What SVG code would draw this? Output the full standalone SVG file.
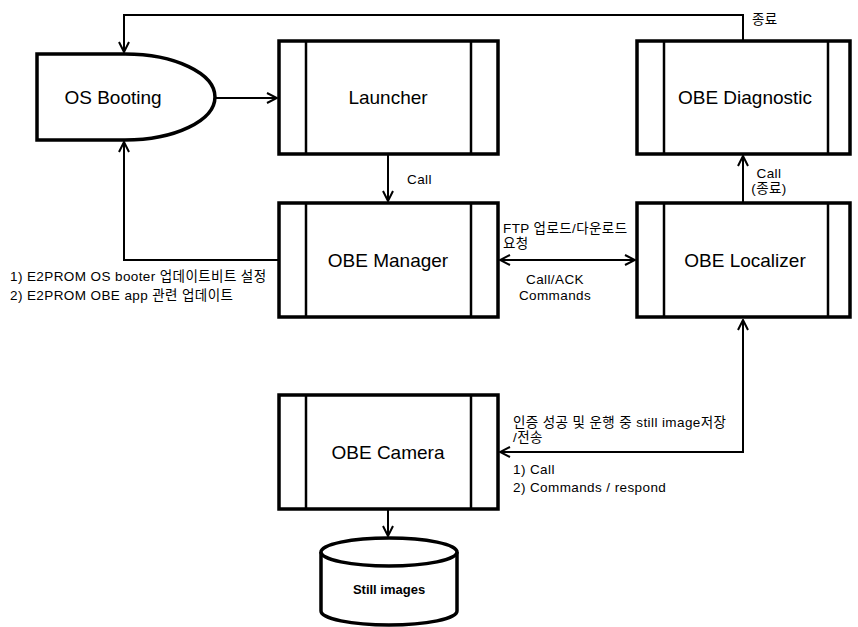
<svg xmlns="http://www.w3.org/2000/svg" width="858" height="627" viewBox="0 0 858 627">
<defs>
<marker id="ah" viewBox="0 0 12 12" refX="11" refY="6" markerWidth="12" markerHeight="12" markerUnits="userSpaceOnUse" orient="auto-start-reverse">
<path d="M1,1 L11,6 L1,11" fill="none" stroke="#000" stroke-width="2"/>
</marker>
<style>
.box{fill:#fff;stroke:#000;stroke-width:3.5}
.in{stroke:#000;stroke-width:2.5}
.lbl{font-family:"Liberation Sans","Noto Sans CJK KR",sans-serif;font-size:19px;fill:#000;text-anchor:middle}
.sm{font-family:"Liberation Sans","Noto Sans CJK KR",sans-serif;font-size:13.5px;letter-spacing:0.4px;fill:#000}
.cn{fill:none;stroke:#000;stroke-width:2}
</style>
</defs>
<rect width="858" height="627" fill="#fff"/>
<g id="connectors">
<path class="cn" d="M743,40 V15 H124 V52" marker-end="url(#ah)"/>
<path class="cn" d="M215,98 H277" marker-end="url(#ah)"/>
<path class="cn" d="M388,154 V201" marker-end="url(#ah)"/>
<path class="cn" d="M279,260 H124 V142" marker-end="url(#ah)"/>
<path class="cn" d="M500,260 H635" marker-start="url(#ah)" marker-end="url(#ah)"/>
<path class="cn" d="M743,203 V156" marker-end="url(#ah)"/>
<path class="cn" d="M500,452 H743 V320" marker-start="url(#ah)" marker-end="url(#ah)"/>
<path class="cn" d="M388,509 V536" marker-end="url(#ah)"/>
<text class="sm" x="752" y="24">종료</text>
<text class="sm" x="407" y="184">Call</text>
<text class="sm" x="10" y="281">1) E2PROM OS booter 업데이트비트  설정</text>
<text class="sm" x="10" y="300">2) E2PROM OBE app 관련 업데이트</text>
<text class="sm" x="503" y="233">FTP 업로드/다운로드</text>
<text class="sm" x="503" y="248">요청</text>
<text class="sm" x="555" y="284" text-anchor="middle">Call/ACK</text>
<text class="sm" x="555" y="300" text-anchor="middle">Commands</text>
<text class="sm" x="769" y="178" text-anchor="middle">Call</text>
<text class="sm" x="769" y="193" text-anchor="middle">(종료)</text>
<text class="sm" x="513" y="427">인증 성공 및 운행 중 still image저장</text>
<text class="sm" x="513" y="442">/전송</text>
<text class="sm" x="513" y="474">1) Call</text>
<text class="sm" x="513" y="492">2) Commands / respond</text>
</g>
<g id="os-booting">
<path class="box" d="M37,54 H125 A90,43 0 0 1 125,140 H37 Z"/>
<text class="lbl" x="113" y="104">OS Booting</text>
</g>
<g id="launcher">
<rect class="box" x="279" y="41" width="219" height="113"/>
<line class="in" x1="306" y1="41" x2="306" y2="154"/>
<line class="in" x1="471" y1="41" x2="471" y2="154"/>
<text class="lbl" x="388" y="104">Launcher</text>
</g>
<g id="obe-diagnostic">
<rect class="box" x="637" y="41" width="213" height="113"/>
<line class="in" x1="664" y1="41" x2="664" y2="154"/>
<line class="in" x1="828" y1="41" x2="828" y2="154"/>
<text class="lbl" x="745" y="104">OBE Diagnostic</text>
</g>
<g id="obe-manager">
<rect class="box" x="279" y="203" width="219" height="114"/>
<line class="in" x1="306" y1="203" x2="306" y2="317"/>
<line class="in" x1="471" y1="203" x2="471" y2="317"/>
<text class="lbl" x="388" y="267">OBE Manager</text>
</g>
<g id="obe-localizer">
<rect class="box" x="637" y="203" width="213" height="114"/>
<line class="in" x1="664" y1="203" x2="664" y2="317"/>
<line class="in" x1="828" y1="203" x2="828" y2="317"/>
<text class="lbl" x="745" y="267">OBE Localizer</text>
</g>
<g id="obe-camera">
<rect class="box" x="279" y="395" width="219" height="114"/>
<line class="in" x1="306" y1="395" x2="306" y2="509"/>
<line class="in" x1="471" y1="395" x2="471" y2="509"/>
<text class="lbl" x="388" y="459">OBE Camera</text>
</g>
<g id="still-images">
<path class="box" d="M321,552 V611 A68,14 0 0 0 457,611 V552"/>
<ellipse class="box" cx="389" cy="552" rx="68" ry="14"/>
<text x="389" y="594" style="font-family:'Liberation Sans',sans-serif;font-size:13px;font-weight:bold;text-anchor:middle">Still images</text>
</g>
</svg>
